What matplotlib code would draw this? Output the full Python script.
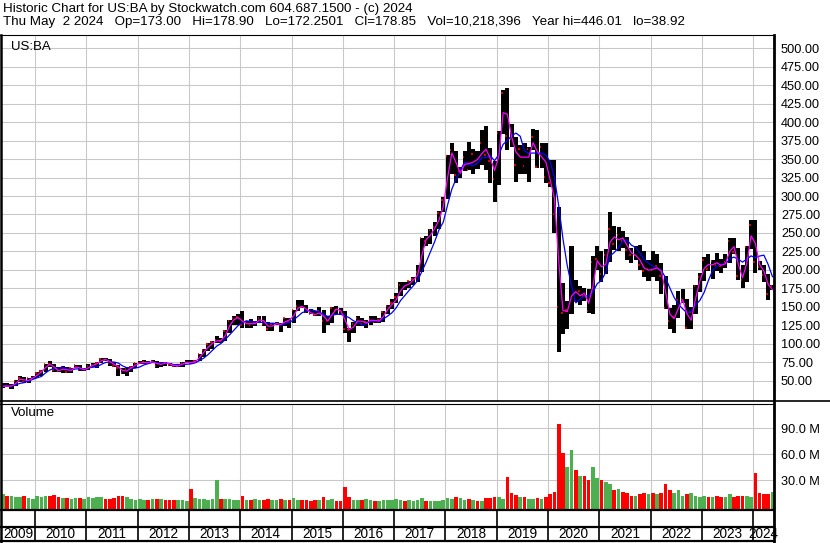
import numpy as np
import pandas as pd
import matplotlib
matplotlib.use("Agg")
import matplotlib.pyplot as plt
from matplotlib.lines import Line2D

plt.rcParams['font.family'] = ['Liberation Sans', 'DejaVu Sans']

# monthly bars for US:BA, May 2009 .. May 2024
close = [
    42.6, 42.5, 42.9, 49.7, 54.1, 47.8, 53.0, 54.1,
    60.6, 63.1, 72.6, 72.4, 64.4, 62.8, 68.2, 61.2, 66.5, 70.6, 63.9, 65.3,
    69.5, 71.9, 73.9, 79.8, 78.0, 73.9, 70.5, 66.9, 60.5, 65.8, 68.7, 73.4,
    74.2, 75.0, 74.4, 76.8, 69.6, 74.3, 73.9, 71.4, 69.6, 70.5, 74.3, 75.4,
    73.9, 76.9, 85.9, 91.4, 99.0, 102.4, 105.1, 103.9, 117.5, 130.5, 134.3, 136.5,
    125.3, 128.9, 125.5, 129.0, 135.3, 127.2, 120.5, 127.2, 127.4, 124.9, 134.4, 130.0,
    145.4, 150.9, 150.1, 143.3, 140.5, 138.7, 144.2, 130.7, 130.9, 148.1, 145.5, 144.6,
    120.1, 118.1, 126.9, 134.8, 126.1, 129.9, 133.7, 129.5, 131.7, 142.4, 150.6, 155.7,
    163.4, 179.9, 176.9, 184.9, 187.6, 197.8, 242.5, 239.7, 254.2, 258.0, 276.7, 294.9,
    354.4, 362.2, 327.9, 333.6, 352.2, 335.5, 356.3, 342.7, 371.9, 354.9, 346.8, 322.5,
    385.6, 440.0, 381.4, 377.7, 341.6, 364.0, 341.2, 364.0, 380.5, 339.9, 366.2, 325.8,
    318.3, 275.1, 149.1, 141.0, 145.8, 183.3, 158.0, 171.8, 165.3, 144.4, 210.8, 214.1,
    194.2, 220.5, 254.7, 234.6, 247.0, 239.6, 226.5, 219.6, 219.9, 207.0, 197.9, 201.3,
    200.2, 205.3, 191.5, 148.8, 131.4, 136.7, 159.3, 160.2, 121.1, 142.6, 178.7, 190.5,
    213.1, 201.6, 212.4, 206.8, 205.7, 211.2, 238.9, 224.1, 191.7, 186.8, 231.6, 260.7,
    211.0, 203.7, 192.9, 167.8, 178.85,
]
high = [
    47.5, 47.0, 45.0, 51.0, 56.0, 54.5, 54.0, 56.6,
    62.0, 64.0, 72.9, 76.0, 73.0, 68.0, 70.0, 69.0, 67.5, 71.5, 71.0, 66.5,
    72.5, 74.5, 75.0, 80.5, 80.7, 79.0, 75.6, 71.0, 67.5, 68.5, 70.0, 74.5,
    76.0, 77.8, 77.0, 77.8, 77.0, 74.8, 75.7, 73.9, 72.0, 72.5, 75.5, 77.8,
    78.0, 78.0, 86.3, 93.0, 101.0, 104.0, 110.0, 108.0, 118.5, 132.0, 138.0, 140.0,
    144.5, 131.0, 133.0, 131.0, 137.0, 137.0, 129.0, 128.0, 129.5, 128.0, 135.0, 135.0,
    146.0, 158.8, 158.8, 152.0, 147.0, 145.0, 149.5, 146.0, 137.0, 149.8, 150.6, 148.0,
    145.0, 121.0, 129.0, 137.5, 135.5, 131.5, 137.0, 138.0, 135.0, 145.0, 153.0, 160.0,
    168.5, 183.0, 184.0, 185.5, 190.0, 206.0, 243.5, 246.0, 256.0, 265.0, 280.0, 299.3,
    354.9, 371.6, 361.0, 339.0, 361.0, 373.0, 363.0, 361.0, 389.0, 394.3, 365.0, 348.0,
    388.0, 443.0, 446.0, 398.0, 380.0, 369.0, 372.0, 367.0, 391.0, 389.0, 372.0, 372.0,
    349.0, 349.0, 285.0, 182.0, 158.0, 232.0, 186.0, 178.0, 175.0, 174.0, 219.0, 233.0,
    226.0, 228.0, 278.6, 259.0, 258.0, 253.0, 245.0, 230.0, 233.0, 234.0, 225.0, 214.0,
    225.0, 222.0, 210.0, 192.0, 149.0, 152.0, 171.0, 174.0, 161.0, 150.0, 180.0, 196.0,
    218.0, 222.0, 213.5, 223.0, 215.0, 222.0, 243.1, 243.0, 229.0, 206.0, 232.0, 267.5,
    267.0, 212.0, 207.0, 194.0, 178.9,
]
low = [
    40.5, 41.0, 38.9, 42.5, 48.0, 47.0, 47.5, 52.0,
    53.0, 57.0, 62.0, 69.0, 61.5, 62.0, 60.0, 61.0, 61.0, 66.5, 63.0, 63.0,
    64.0, 69.0, 67.0, 73.5, 76.0, 70.5, 68.0, 56.0, 59.0, 56.7, 62.0, 66.5,
    72.0, 73.0, 72.7, 73.5, 66.8, 68.5, 70.5, 70.5, 68.3, 69.0, 67.9, 73.9,
    72.7, 73.5, 76.5, 82.0, 90.0, 93.5, 101.5, 101.0, 104.0, 114.0, 126.0, 126.0,
    122.0, 121.0, 122.0, 124.0, 128.0, 124.0, 117.0, 117.0, 125.0, 116.0, 124.0, 122.0,
    128.0, 145.0, 148.0, 142.0, 140.0, 138.0, 137.0, 115.0, 126.0, 128.0, 140.0, 139.0,
    115.0, 102.1, 115.0, 123.5, 124.0, 121.0, 125.0, 127.5, 128.0, 129.0, 140.0, 147.0,
    155.0, 165.0, 173.0, 175.0, 180.0, 183.0, 197.0, 232.0, 235.0, 246.0, 256.0, 278.0,
    296.0, 330.0, 318.0, 325.0, 334.0, 335.0, 330.0, 337.0, 342.0, 335.0, 318.0, 292.5,
    315.0, 384.0, 362.0, 366.0, 319.0, 330.0, 330.0, 319.0, 362.0, 338.0, 338.0, 318.0,
    312.0, 250.0, 89.0, 113.0, 120.0, 140.0, 156.0, 152.0, 158.0, 141.0, 140.0, 200.0,
    184.0, 194.0, 211.0, 227.0, 225.0, 230.0, 213.0, 209.0, 213.0, 200.0, 190.0, 185.0,
    190.0, 185.0, 168.0, 147.0, 120.0, 114.0, 135.0, 155.0, 120.0, 120.0, 140.0, 170.0,
    185.0, 199.0, 188.0, 199.0, 196.0, 202.0, 209.0, 221.0, 186.5, 176.0, 183.0, 228.0,
    196.0, 200.0, 184.0, 159.7, 172.3,
]
# daily volume, millions (height of the bars as seen on the chart)
volume = [
    14, 12, 11, 10, 10, 12, 9, 8,
    11, 10, 12, 12, 13, 10, 9, 9, 8, 9, 9, 8,
    10, 9, 10, 10, 8, 8, 9, 12, 12, 10, 8, 7,
    8, 7, 7, 8, 8, 8, 7, 7, 7, 7, 7, 6,
    20, 9, 8, 8, 7, 8, 30, 8, 8, 8, 7, 7,
    12, 7, 7, 8, 7, 7, 8, 7, 7, 8, 7, 7,
    9, 7, 7, 7, 6, 7, 7, 10, 7, 8, 6, 6,
    22, 10, 7, 7, 7, 8, 7, 6, 6, 7, 7, 7,
    8, 7, 6, 7, 6, 7, 9, 6, 6, 6, 6, 7,
    9, 8, 10, 9, 7, 8, 7, 6, 6, 9, 9, 10,
    10, 8, 33, 15, 13, 10, 10, 8, 8, 9, 8, 10,
    14, 16, 95, 62, 45, 65, 42, 35, 35, 30, 45, 32,
    30, 28, 25, 18, 20, 16, 15, 12, 12, 14, 15, 14,
    15, 14, 15, 25, 18, 15, 18, 12, 14, 15, 12, 10,
    12, 10, 10, 12, 10, 10, 14, 10, 12, 12, 12, 10,
    38, 15, 14, 14, 16,
]
years = list(range(2009, 2025))
price_ticks = list(range(50, 501, 25))
vol_ticks = [30, 60, 90]

W, H = 830, 543
def fx(x): return x / W
def fy(y): return 1 - y / H

x = 2009 + (4 + np.arange(len(close)) + 0.5) / 12
closes = pd.Series(close)
ma_fast = closes.rolling(2, min_periods=1).mean()
ma_slow = closes.rolling(5, min_periods=1).mean()
prev = closes.shift(1).fillna(closes[0])
vcol = np.where(closes >= prev, '#4caf50', '#ff0000')

x0, x1 = 2009.357, 2024.405
grid = '#c8c8c8'

fig = plt.figure(figsize=(W / 100, H / 100), dpi=100)

ax = fig.add_axes([fx(2), fy(401), 772 / W, (401 - 35) / H])
axv = fig.add_axes([fx(2), fy(509), 772 / W, (509 - 403.5) / H])
axd = fig.add_axes([fx(2), fy(541), 772 / W, (541 - 509) / H])

for a in (ax, axv, axd):
    for s in a.spines.values():
        s.set_visible(False)
    a.set_xlim(x0, x1)

# price panel
ax.set_ylim(22.5, 518)
ax.set_xticks(years[1:])
ax.set_yticks(price_ticks)
ax.set_yticklabels(['%.2f' % v for v in price_ticks])
ax.yaxis.tick_right()
ax.tick_params(axis='y', length=0, pad=5, labelsize=9.2)
ax.tick_params(axis='x', length=0, labelbottom=False)
ax.grid(True, color=grid, lw=0.75)
ax.set_axisbelow(True)
hi = np.array(high)
lo = np.array(low)
ax.bar(x, hi - lo, bottom=lo, width=0.95 / 12, color='black', lw=0)
ax.hlines(close, x - 0.45 / 12, x - 0.1 / 12, color='#ff0000', lw=1.2)
ax.plot(x, ma_slow, color='#0000ff', lw=0.9)
ax.plot(x, ma_fast, color='#ff00ff', lw=0.9)
ax.text(9 / 772, 1 - 6 / 366, 'US:BA', transform=ax.transAxes,
        fontsize=9.5, va='top', ha='left')

# volume panel
axv.set_ylim(-3.7, 119)
axv.set_xticks(years[1:])
axv.set_yticks(vol_ticks)
axv.set_yticklabels(['%.1f M' % v for v in vol_ticks])
axv.yaxis.tick_right()
axv.tick_params(axis='y', length=0, pad=5, labelsize=9.2)
axv.tick_params(axis='x', length=0, labelbottom=False)
axv.grid(True, color=grid, lw=0.75)
axv.set_axisbelow(True)
vol = np.array(volume, dtype=float)
axv.bar(x, vol + 3.7, bottom=-3.7, width=0.85 / 12, color=vcol, lw=0)
axv.text(9 / 772, 1 - 3 / 105.5, 'Volume', transform=axv.transAxes,
         fontsize=9.5, va='top', ha='left')

# date strip
axd.set_ylim(0, 1)
axd.set_xticks([])
axd.set_yticks([])
for yr in years[1:]:
    axd.axvline(yr, color='black', lw=1.2)
for yr in years:
    a0, a1 = max(yr, x0), min(yr + 1, x1)
    axd.text((a0 + a1) / 2, 7 / 32, str(yr), ha='center', va='center',
             fontsize=9.8)

# frame lines in pixel positions
def hline(y, xa, xb, lw):
    fig.add_artist(Line2D([fx(xa), fx(xb)], [fy(y), fy(y)], color='black',
                          lw=lw, transform=fig.transFigure))
def vline(xp, ya, yb, lw):
    fig.add_artist(Line2D([fx(xp), fx(xp)], [fy(ya), fy(yb)], color='black',
                          lw=lw, transform=fig.transFigure))

hline(35, 0, 774, 0.8)
hline(401, 0, 830, 1.2)
hline(403.5, 0, 774, 0.8)
hline(509.5, 0, 774, 1.6)
hline(527, 0, 774, 1.6)
hline(541, 0, 774, 1.6)
vline(1, 35, 542, 1.8)
vline(774, 35, 542, 2.0)

fig.text(fx(3), fy(9), 'Historic Chart for US:BA by Stockwatch.com 604.687.1500 - (c) 2024',
         fontsize=9.6, va='center', ha='left')
fig.text(fx(3), fy(22),
         'Thu May  2 2024   Op=173.00   Hi=178.90   Lo=172.2501   Cl=178.85   '
         'Vol=10,218,396   Year hi=446.01   lo=38.92',
         fontsize=9.6, va='center', ha='left')

fig.savefig('out.png', dpi=100)
